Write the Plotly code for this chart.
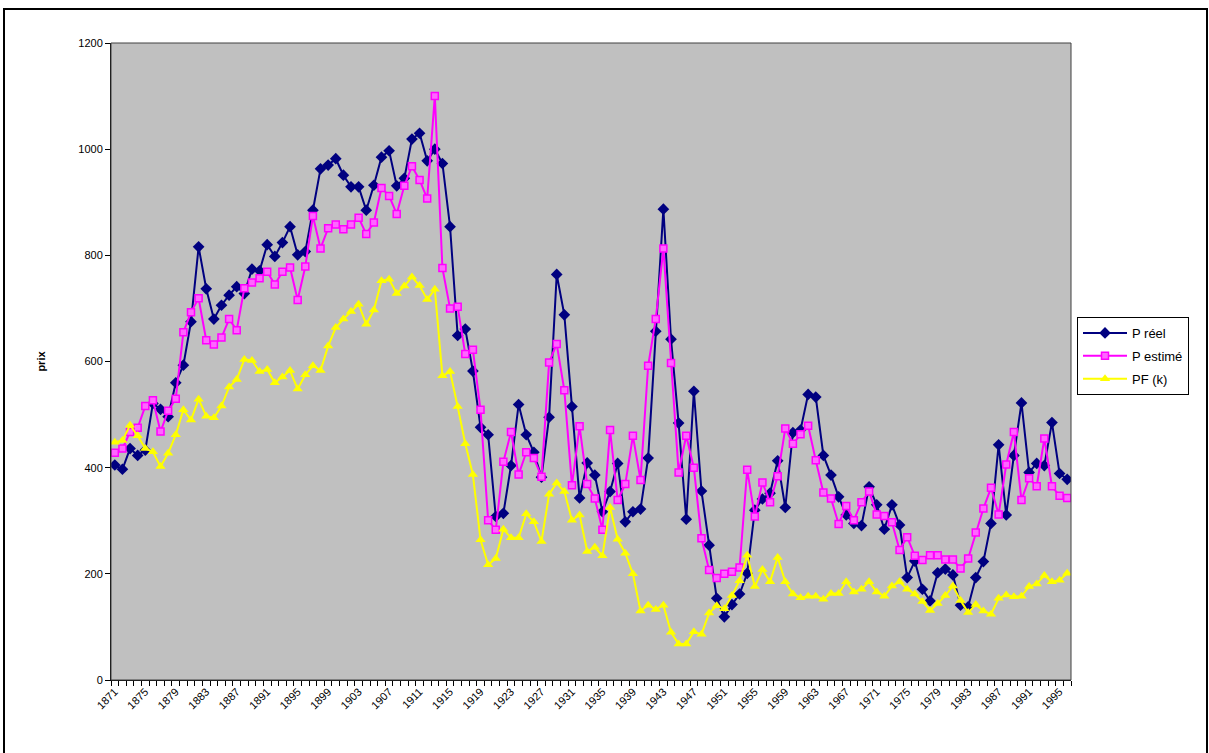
import plotly.graph_objects as go

years = list(range(1871, 1997))

p_reel = [405, 397, 436, 423, 433, 521, 510, 496, 560, 593,
          675, 816, 737, 680, 706, 725, 741, 728, 774, 771,
          820, 798, 824, 854, 801, 807, 885, 963, 970, 982,
          951, 929, 929, 885, 932, 985, 997, 931, 945, 1019,
          1030, 978, 1000, 973, 854, 649, 661, 582, 476, 462,
          308, 314, 404, 519, 462, 429, 382, 495, 764, 688,
          515, 343, 409, 386, 317, 355, 408, 298, 317, 322,
          418, 657, 887, 642, 484, 303, 544, 356, 254, 154,
          119, 142, 162, 201, 320, 341, 352, 413, 325, 466,
          471, 538, 533, 423, 386, 345, 311, 295, 291, 364,
          330, 284, 330, 292, 193, 224, 171, 149, 202, 209,
          198, 141, 138, 193, 223, 295, 443, 311, 423, 522,
          391, 408, 404, 485, 389, 378]

p_estime = [428, 436, 467, 475, 516, 527, 468, 507, 530, 655,
            693, 719, 640, 632, 645, 680, 659, 738, 749, 757,
            769, 745, 769, 777, 716, 779, 874, 813, 851, 858,
            849, 858, 871, 840, 862, 927, 912, 878, 931, 968,
            942, 907, 1100, 776, 700, 703, 614, 622, 509, 301,
            283, 411, 467, 387, 429, 418, 383, 598, 633, 546,
            367, 478, 369, 342, 283, 471, 339, 369, 460, 377,
            592, 680, 813, 597, 391, 460, 400, 267, 207, 192,
            200, 204, 212, 396, 308, 372, 335, 384, 474, 445,
            463, 479, 414, 353, 342, 294, 328, 301, 335, 355,
            312, 309, 297, 245, 269, 234, 226, 235, 235, 227,
            227, 210, 229, 278, 323, 362, 312, 406, 467, 339,
            380, 365, 455, 365, 347, 343]

pf_k = [448, 451, 480, 460, 436, 430, 402, 427, 462, 509,
        490, 529, 497, 494, 516, 552, 566, 604, 602, 581,
        585, 560, 571, 583, 548, 575, 592, 583, 629, 664,
        680, 694, 708, 670, 697, 752, 755, 728, 742, 759,
        743, 717, 736, 573, 581, 515, 445, 387, 264, 217,
        229, 284, 268, 268, 313, 298, 261, 350, 371, 355,
        301, 311, 242, 250, 234, 325, 265, 239, 200, 130,
        141, 133, 141, 90, 68, 68, 91, 86, 126, 140,
        134, 159, 187, 235, 176, 208, 185, 231, 185, 162,
        155, 158, 158, 152, 163, 163, 185, 166, 171, 185,
        166, 158, 177, 185, 171, 162, 148, 131, 144, 159,
        177, 150, 127, 142, 130, 124, 154, 160, 157, 158,
        176, 181, 197, 185, 188, 201]

label_years = list(range(1871, 1996, 4))
label_text = [str(y) for y in label_years]

FONT = "Liberation Sans, Arial, sans-serif"

fig = go.Figure()
fig.add_trace(go.Scatter(
    x=years, y=p_reel, name="P réel", mode="lines+markers",
    legendgroup="a",
    line=dict(color="#000080", width=2),
    marker=dict(symbol="diamond", size=9, color="#000080")))
fig.add_trace(go.Scatter(
    x=years, y=p_estime, name="P estimé", mode="lines+markers",
    legendgroup="b",
    line=dict(color="#FF00FF", width=2),
    marker=dict(symbol="square", size=7, color="#FF66FF",
                line=dict(color="#FF00FF", width=1.5))))
fig.add_trace(go.Scatter(
    x=years, y=pf_k, name="PF (k)", mode="lines+markers",
    legendgroup="c",
    line=dict(color="#FFFF00", width=2),
    marker=dict(symbol="triangle-up", size=9, color="#FFFF00")))

W, H = 1209, 753
L, R, T, B = 111, 1071, 43, 680

def px(xp):
    return (xp - L) / (R - L)

def py(yp):
    return (B - yp) / (B - T)

fig.update_layout(
    width=W, height=H,
    margin=dict(l=L, r=W - R, t=T, b=H - B, pad=0),
    paper_bgcolor="white",
    plot_bgcolor="#C0C0C0",
    font=dict(family=FONT, size=11, color="black"),
    showlegend=True,
    legend=dict(
        x=px(1077), y=py(317), xanchor="left", yanchor="top",
        bgcolor="white", bordercolor="black", borderwidth=1,
        font=dict(family=FONT, size=13, color="black"),
        itemwidth=44, tracegroupgap=3,
    ),
    xaxis=dict(
        range=[1870.5, 1996.5],
        tickmode="array", tickvals=label_years, ticktext=label_text,
        tickangle=-45, ticks="", showgrid=False, zeroline=False,
        showline=True, linecolor="black", linewidth=1, mirror=False,
        tickfont=dict(family=FONT, size=11, color="black"),
        minor=dict(tickmode="linear", tick0=1870.5, dtick=1,
                   ticks="outside", ticklen=5, tickcolor="black",
                   tickwidth=1, showgrid=False),
    ),
    yaxis=dict(
        range=[0, 1200], tickmode="linear", tick0=0, dtick=200,
        ticks="outside", ticklen=5, tickcolor="black",
        showgrid=False, zeroline=False,
        showline=True, linecolor="black", linewidth=1,
        tickfont=dict(family=FONT, size=11, color="black"),
        title=dict(text="<b>prix</b>", standoff=30,
                   font=dict(family=FONT, size=11, color="black")),
    ),
    shapes=[
        dict(type="rect", xref="paper", yref="paper",
             x0=0, x1=1, y0=0, y1=1,
             line=dict(color="#404040", width=1), layer="above"),
        dict(type="rect", xref="paper", yref="paper",
             x0=px(4), x1=px(1207), y0=py(760), y1=py(9),
             line=dict(color="black", width=2)),
    ],
)

fig.write_html("out.html",
               config={"displayModeBar": False},
               post_script="document.body.style.margin='0px';")
